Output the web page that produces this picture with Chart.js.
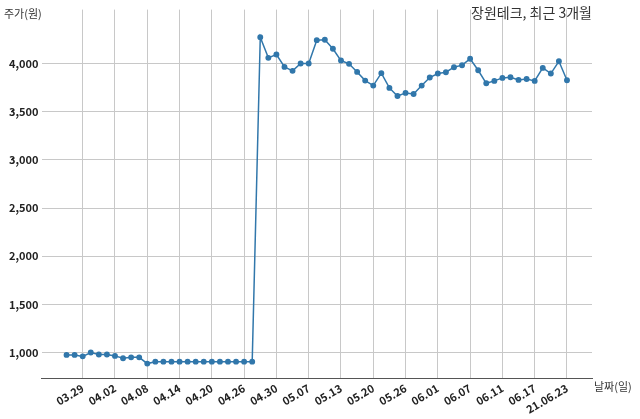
<!DOCTYPE html>
<html>
<head>
<meta charset="utf-8">
<script src="https://cdn.jsdelivr.net/npm/chart.js@4"></script>
<style>
  body { margin: 0; background: #fff; }
  #wrap { width: 640px; height: 419px; }
</style>
</head>
<body>
<div id="wrap"><canvas id="c"></canvas></div>
<script>
/* ================= DATA ================= */
const tickLabels = ["03.29", "04.02", "04.08", "04.14", "04.20", "04.26", "04.30", "05.07",
  "05.13", "05.20", "05.26", "06.01", "06.07", "06.11", "06.17", "21.06.23"];

const prices = [975, 975, 960, 1000, 980, 980, 965, 940, 950, 950, 885,
  905, 905, 905, 905, 905, 905, 905, 905, 905, 905, 905, 905, 905,
  4274, 4059, 4094, 3965, 3924, 4000, 4000, 4243, 4247, 4153, 4031, 3997,
  3913, 3823, 3771, 3900, 3747, 3663, 3695, 3684, 3771, 3855, 3896,
  3910, 3962, 3983, 4049, 3930, 3795, 3820, 3851, 3858, 3830, 3840,
  3820, 3955, 3896, 4024, 3826];

// tick label k sits on trading day 2 + 4k
const tickIndex = tickLabels.map((_, k) => 2 + 4 * k);

const yTicks = [1000, 1500, 2000, 2500, 3000, 3500, 4000];

/* ================= TEXT PLUGIN ================= */
const font = "'Noto Sans CJK KR', 'Noto Sans', sans-serif";
const extraText = {
  id: "extraText",
  afterDraw(chart) {
    const { ctx, chartArea } = chart;
    ctx.save();
    ctx.fillStyle = "#333";
    ctx.font = "11px " + font;
    ctx.textBaseline = "middle";
    ctx.textAlign = "left";
    ctx.fillText("주가(원)", 4, 14);
    ctx.fillText("날짜(일)", chartArea.right + 2, chartArea.bottom + 8);
    ctx.font = "14px " + font;
    ctx.textAlign = "right";
    ctx.fillText("장원테크, 최근 3개월", chartArea.right, 13);
    ctx.restore();
  }
};

/* ================= CHART ================= */
new Chart(document.getElementById("c"), {
  type: "line",
  data: {
    datasets: [{
      data: prices.map((p, i) => ({ x: i, y: p })),
      borderColor: "#3177ab",
      backgroundColor: "#3177ab",
      borderWidth: 1.5,
      pointRadius: 2.2,
      pointHoverRadius: 2.2,
      tension: 0
    }]
  },
  options: {
    responsive: true,
    maintainAspectRatio: false,
    animation: false,
    layout: { padding: { top: 8, right: 48, left: 6, bottom: 0 } },
    plugins: { legend: { display: false }, tooltip: { enabled: false } },
    scales: {
      x: {
        type: "linear",
        min: -3.1,
        max: 65.1,
        afterBuildTicks: (s) => { s.ticks = tickIndex.map(v => ({ value: v })); },
        grid: { color: "#c8c8c8", drawTicks: false },
        border: { color: "#555" },
        ticks: {
          autoSkip: false,
          maxRotation: 30,
          minRotation: 30,
          color: "#222",
          font: { family: font, size: 11, weight: "bold" },
          callback: (v) => tickLabels[tickIndex.indexOf(v)]
        }
      },
      y: {
        min: 730,
        max: 4560,
        afterBuildTicks: (s) => { s.ticks = yTicks.map(v => ({ value: v })); },
        grid: { color: "#c8c8c8", drawTicks: false },
        border: { display: false },
        ticks: {
          padding: 3,
          color: "#222",
          font: { family: font, size: 11, weight: "bold" },
          callback: (v) => v.toLocaleString("en-US")
        }
      }
    }
  },
  plugins: [extraText]
});
</script>
</body>
</html>
